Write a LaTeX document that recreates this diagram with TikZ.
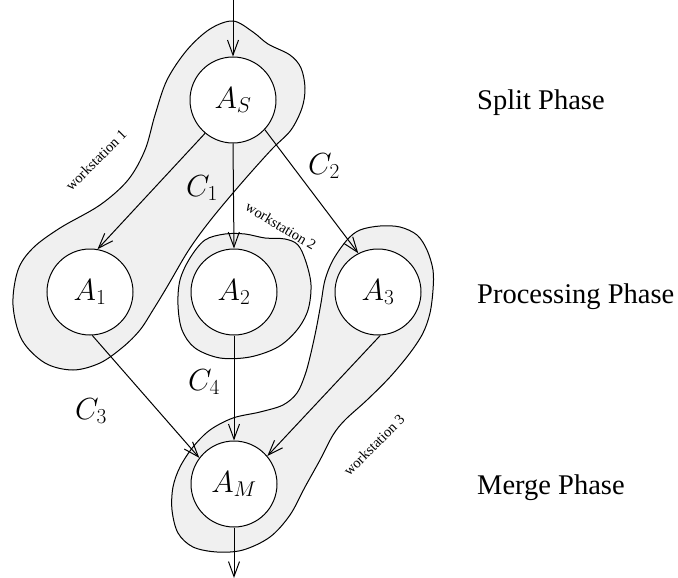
\RequirePackage{fix-cm}
\documentclass[tikz,border=0pt]{standalone}
\usepackage{fontspec}
\setmainfont{Liberation Serif}
\usetikzlibrary{arrows.meta}
\tikzset{
  proc/.style={circle,draw,fill=white,line width=1pt,minimum size=86pt,inner sep=0pt,font=\fontsize{30.5}{31}\selectfont},
  blob/.style={draw,fill=black!6,line width=1pt},
  conn/.style={line width=1pt,-{Straight Barb[length=15pt,width=11pt,line width=1pt]}},
  lab/.style={font=\fontsize{30.5}{31}\selectfont},
  ws/.style={font=\fontsize{14.5}{15}\selectfont},
  phase/.style={anchor=base west,font=\fontsize{28.5}{30}\selectfont,inner sep=0pt}
}
\begin{document}
\begin{tikzpicture}[x=1pt,y=-1pt]
\useasboundingbox (0,0) rectangle (678,578);
% workstation 1
\draw[blob] plot[smooth cycle,tension=0.55] coordinates {
(233,21) (253,32) (268,44) (290,55) (301,68) (305,88) (302,108) (291,130) (273,148)
(253,170) (233,193) (213,217) (197,238) (185,256) (167,287) (153,310) (140,330) (123,347)
(100,363) (73,370) (45,363) (22,340) (13,305) (18,270) (33,248) (60,228) (100,205)
(128,180) (145,150) (155,115) (167,80) (187,50) (210,29)};
% workstation 2
\draw[blob] plot[smooth cycle,tension=0.55] coordinates {
(205,240) (225,234) (245,234) (265,238) (285,239) (298,245) (306,262) (311,285) (308,310)
(297,330) (278,347) (250,357) (220,358) (195,348) (182,330) (178,305) (180,280) (190,258)};
% workstation 3
\draw[blob] plot[smooth cycle,tension=0.55] coordinates {
(380,226) (400,227) (417,235) (427,250) (433,270) (433,290) (430,313) (423,333) (410,353)
(390,377) (367,400) (345,420) (333,435) (320,460) (305,487) (290,515) (270,537) (243,550)
(217,552) (193,547) (178,533) (172,510) (173,487) (180,467) (193,447) (210,430) (233,418)
(260,412) (283,405) (297,393) (305,375) (310,357) (316,330) (321,303) (325,280) (333,260)
(347,240) (360,230)};
% nodes
\node[proc] (AS) at (233,100) {$A_S$};
\node[proc] (A1) at (90,292) {$A_1$};
\node[proc] (A2) at (234,292) {$A_2$};
\node[proc] (A3) at (378,292) {$A_3$};
\node[proc] (AM) at (234,484) {$A_M$};
\coordinate (in) at (233,0);
\coordinate (out) at (234,578);
% connectors
\draw[conn] (in) -- (AS.north);
\draw[conn] (AS.230) -- (A1.80);
\draw[conn] (AS.south) -- (A2.north);
\draw[conn] (AS.-43) -- (A3.117);
\draw[conn] (A1.-87) -- (AM.143);
\draw[conn] (A2.south) -- (AM.north);
\draw[conn] (A3.-87) -- (AM.40);
\draw[conn] (AM.south) -- (out);
% labels
\node[lab] (c1) at (202,188) {$C_1$};
\node[lab] (c2) at (324,166) {$C_2$};
\node[lab] (c3) at (91,411) {$C_3$};
\node[lab] (c4) at (204,382) {$C_4$};
\node[ws,rotate=45] (w1) at (96,160) {workstation 1};
\node[ws,rotate=-31] (w2) at (281,226) {workstation 2};
\node[ws,rotate=45] (w3) at (374,445) {workstation 3};
\node[phase] (p1) at (477,110) {Split Phase};
\node[phase] (p2) at (477,303) {Processing Phase};
\node[phase] (p3) at (477,494) {Merge Phase};
\end{tikzpicture}
\end{document}
